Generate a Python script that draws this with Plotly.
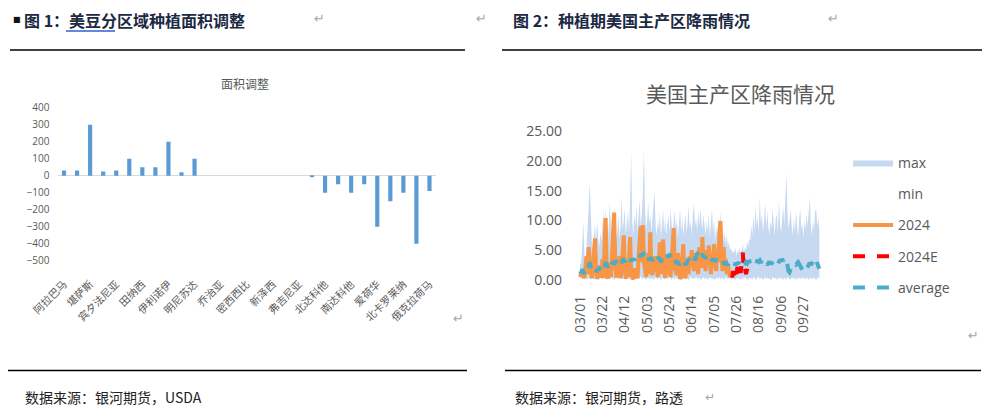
import plotly.graph_objects as go
import pandas as pd

W, H = 991, 412
OX, OY = 8, 8  # the page body offsets the figure by its default margin


def px(x):
    return (x - OX) / W


def py(y):
    return 1 - (y - OY) / H


# ---------------- Left chart data: 面积调整 ----------------
area_labels = ["阿拉巴马", "堪萨斯", "宾夕法尼亚", "田纳西", "伊利诺伊", "明尼苏达", "乔治亚",
               "密西西比", "新泽西", "弗吉尼亚", "北达科他", "南达科他", "爱荷华", "北卡罗莱纳", "俄克拉荷马"]
area_change = [30, 30, 300, 25, 30, 100, 50, 50, 200, 20, 100, 0, 0, 0, 0, 0, 0, 0, 0,
               -5, -100, -50, -100, -50, -300, -150, -100, -400, -90]
area_yticks = [400, 300, 200, 100, 0, -100, -200, -300, -400, -500]

# ---------------- Right chart data: 美国主产区降雨情况 ----------------
rain_start = "2024-03-01"
rain_tick_labels = ["03/01", "03/22", "04/12", "05/03", "05/24", "06/14", "07/05",
                    "07/26", "08/16", "09/06", "09/27"]
rain_yticks = [0, 5, 10, 15, 20, 25]

rain_max = [
    2.5, 3.0, 6.0, 10.0, 4.0, 3.5, 5.5, 8.0, 12.0, 16.5,
    9.0, 6.5, 5.0, 7.5, 9.5, 6.0, 10.0, 7.0, 5.5, 8.0,
    6.5, 9.0, 11.5, 7.0, 12.0, 8.5, 6.0, 9.5, 13.0, 8.0,
    10.5, 7.5, 12.5, 9.0, 6.5, 8.0, 11.0, 7.0, 9.0, 14.0,
    8.5, 10.0, 12.0, 7.5, 9.5, 11.5, 8.0, 13.0, 21.5, 10.0,
    7.5, 11.0, 9.0, 12.5, 8.0, 10.5, 13.5, 9.0, 11.0, 14.5,
    21.8, 12.0, 8.5, 10.0, 13.0, 9.5, 11.0, 8.0, 10.5, 12.0,
    15.0, 9.0, 7.5, 10.0, 8.5, 11.5, 7.0, 9.5, 12.0, 8.0,
    10.5, 7.5, 9.0, 11.0, 8.0, 12.0, 9.5, 7.0, 10.0, 11.5,
    8.5, 10.0, 7.0, 9.0, 12.0, 8.0, 10.5, 7.5, 9.0, 11.0,
    8.0, 9.5, 12.5, 8.5, 10.0, 7.5, 11.0, 13.0, 9.0, 10.5,
    8.0, 11.5, 9.0, 12.0, 10.0, 8.5, 11.0, 9.5, 7.5, 10.0,
    8.0, 11.0, 7.0, 9.5, 12.0, 8.0, 10.0, 6.5, 9.0, 7.5,
    10.5, 8.0, 11.5, 7.0, 9.0, 6.5, 8.0, 6.0, 7.5, 5.5,
    6.5, 5.0, 5.5, 4.5, 5.0, 4.5, 5.5, 4.0, 5.0, 4.5,
    5.5, 4.5, 5.0, 6.0, 4.5, 5.5, 5.0, 6.5, 5.5, 7.0,
    6.5, 9.0, 7.5, 11.0, 8.0, 12.5, 9.0, 10.5, 8.0, 14.0,
    9.5, 11.0, 8.0, 10.0, 13.0, 8.5, 11.5, 9.0, 7.5, 10.0,
    8.5, 12.0, 9.0, 7.5, 10.5, 11.0, 8.0, 13.5, 9.5, 8.0,
    10.0, 12.5, 9.0, 15.0, 18.0, 11.0, 8.5, 10.0, 12.0, 9.0,
    7.5, 10.5, 8.0, 11.5, 9.0, 7.0, 10.0, 12.0, 8.5, 9.5,
    7.0, 10.0, 8.5, 11.0, 9.0, 12.0, 13.8, 9.0, 7.5, 10.0,
    8.5, 11.5, 12.0, 9.0, 10.5, 8.0,
]

rain_min = [
    0.2, 0.4, 0.1, 0.3, 0.0, 0.5, 0.2, 0.1, 0.4, 0.3,
    0.1, 0.3, 0.5, 0.2, 0.0, 0.4, 0.1, 0.3, 0.2, 0.5,
    0.3, 0.1, 0.4, 0.6, 0.2, 0.0, 0.3, 0.5, 0.1, 0.2,
    0.4, 0.2, 0.0, 0.3, 0.5, 0.1, 0.4, 0.2, 0.6, 0.3,
    0.1, 0.4, 0.2, 0.0, 0.3, 0.5, 0.2, 0.1, 0.4, 0.3,
    0.0, 0.2, 0.5, 0.3, 0.1, 0.4, 0.2, 0.6, 0.3, 0.1,
    0.4, 0.2, 0.0, 0.3, 0.5, 0.1, 0.3, 0.2, 0.4, 0.0,
    0.3, 0.5, 0.2, 0.1, 0.4, 0.3, 0.0, 0.2, 0.5, 0.1,
    0.2, 0.4, 0.1, 0.3, 0.6, 0.2, 0.0, 0.4, 0.3, 0.1,
    0.5, 0.2, 0.3, 0.0, 0.4, 0.1, 0.3, 0.5, 0.2, 0.4,
    0.1, 0.3, 0.0, 0.2, 0.5, 0.4, 0.1, 0.3, 0.2, 0.6,
    0.3, 0.1, 0.4, 0.2, 0.0, 0.3, 0.5, 0.1, 0.4, 0.2,
    0.0, 0.4, 0.2, 0.5, 0.1, 0.3, 0.2, 0.0, 0.4, 0.3,
    0.2, 0.5, 0.1, 0.3, 0.4, 0.0, 0.2, 0.6, 0.3, 0.1,
    0.4, 0.2, 0.3, 0.1, 0.5, 0.2, 0.0, 0.3, 0.4, 0.1,
    0.3, 0.0, 0.2, 0.4, 0.1, 0.5, 0.3, 0.2, 0.0, 0.4,
    0.2, 0.3, 0.1, 0.5, 0.4, 0.0, 0.2, 0.3, 0.6, 0.1,
    0.4, 0.2, 0.0, 0.3, 0.5, 0.1, 0.4, 0.2, 0.3, 0.0,
    0.1, 0.5, 0.3, 0.2, 0.4, 0.0, 0.3, 0.1, 0.5, 0.2,
    0.3, 0.0, 0.4, 0.2, 0.1, 0.5, 0.3, 0.2, 0.0, 0.4,
    0.2, 0.4, 0.1, 0.3, 0.0, 0.5, 0.2, 0.4, 0.1, 0.3,
    0.5, 0.1, 0.3, 0.2, 0.4, 0.0, 0.3, 0.5, 0.1, 0.2,
    0.4, 0.2, 0.0, 0.3, 0.5, 0.1,
]

rain_2024 = [
    0.5, 1.2, 0.8, 1.5, 0.3, 2.5, 4.0, 1.0, 5.5, 3.0,
    0.5, 0.3, 2.0, 4.5, 7.0, 1.5, 0.2, 0.8, 2.5, 0.4,
    1.0, 3.5, 0.3, 6.0, 10.4, 2.0, 0.2, 1.5, 3.0, 0.5,
    4.5, 8.0, 11.3, 3.0, 0.4, 2.0, 1.0, 4.0, 0.3, 1.5,
    5.0, 7.5, 2.5, 0.2, 1.8, 0.5, 3.5, 7.2, 1.0, 0.2,
    0.1, 2.0, 0.5, 1.0, 0.3, 4.0, 6.5, 9.0, 3.0, 9.2,
    3.0, 1.5, 0.5, 2.0, 4.5, 1.0, 8.0, 2.0, 0.8, 3.5,
    1.5, 4.0, 2.0, 0.5, 3.0, 6.3, 2.0, 1.0, 6.8, 1.0,
    0.3, 2.5, 4.0, 1.0, 2.0, 0.5, 3.0, 5.0, 8.7, 2.0,
    1.5, 0.8, 4.5, 2.0, 0.2, 0.5, 3.0, 6.0, 1.0, 0.3,
    2.0, 3.5, 1.0, 4.0, 2.5, 5.0, 3.0, 1.5, 4.5, 2.0,
    3.5, 1.0, 5.5, 4.0, 2.0, 7.2, 3.0, 5.0, 1.5, 4.0,
    2.5, 5.8, 3.0, 1.0, 4.5, 2.0, 6.0, 3.5, 1.5, 5.0,
    3.0, 7.5, 9.9, 4.0, 1.5, 5.5, 2.0, 3.5, 1.0, 2.5,
    1.5, 0.5, 1.0, 0.4,
]

rain_2024e_start = 143
rain_2024e = [0.4, 1.5, 0.8, 2.0, 1.0, 2.2, 0.5, 1.8, 1.2, 2.5, 4.6, 1.5, 2.0, 1.0, 1.8, 0.8, 0.5]

rain_avg = [
    1.5, 1.2, 1.8, 1.4, 1.0, 1.6, 2.0, 1.5, 2.8, 3.0,
    2.2, 1.6, 1.3, 1.8, 1.5, 1.2, 1.9, 1.6, 2.1, 1.8,
    2.4, 2.0, 2.6, 2.2, 3.0, 2.5, 2.1, 2.8, 2.4, 2.0,
    2.7, 3.1, 2.6, 2.9, 3.3, 2.8, 2.5, 3.0, 3.4, 2.9,
    3.2, 3.6, 3.0, 3.4, 2.9, 3.3, 3.7, 3.1, 3.5, 3.2,
    3.6, 3.3, 3.9, 3.5, 4.0, 3.7, 4.2, 3.9, 4.4, 4.1,
    4.7, 4.0, 3.6, 3.9, 3.3, 3.7, 3.4, 3.8, 3.2, 3.6,
    3.3, 3.7, 3.1, 3.5, 3.8, 3.4, 3.0, 3.6, 3.9, 3.5,
    4.0, 3.6, 4.2, 3.8, 4.4, 4.0, 4.5, 3.9, 4.1, 3.5,
    3.0, 2.7, 3.1, 2.5, 2.9, 2.4, 2.8, 2.6, 3.0, 2.5,
    2.8, 3.2, 3.6, 3.1, 3.5, 3.9, 3.4, 3.8, 3.3, 4.0,
    4.3, 4.8, 5.2, 4.5, 4.0, 4.4, 3.8, 4.1, 3.6, 3.9,
    3.5, 3.8, 3.3, 3.7, 3.2, 3.6, 3.4, 3.1, 3.5, 3.2,
    3.0, 3.4, 3.1, 2.8, 3.2, 2.9, 2.6, 3.0, 2.7, 2.5,
    2.9, 2.6, 3.0, 2.7, 2.4, 2.8, 2.5, 2.9, 2.6, 3.0,
    2.7, 2.3, 2.8, 2.5, 2.9, 2.6, 3.0, 2.8, 3.2, 2.9,
    3.3, 3.0, 3.4, 3.1, 3.5, 3.2, 3.0, 3.4, 3.1, 3.3,
    2.9, 3.2, 2.7, 3.0, 2.6, 2.9, 2.5, 2.8, 3.1, 2.7,
    3.0, 2.6, 2.9, 3.2, 2.8, 3.1, 2.7, 3.0, 3.4, 3.1,
    3.5, 3.2, 3.8, 4.0, 3.6, 2.2, 1.5, 1.3, 1.7, 1.4,
    2.0, 2.5, 2.8, 2.6, 2.9, 3.0, 2.7, 2.4, 2.0, 1.6,
    1.4, 1.7, 1.3, 1.8, 2.2, 2.6, 2.9, 2.5, 2.8, 3.1,
    2.7, 3.3, 3.6, 2.8, 2.2, 1.9,
]

# ---------------- Build figure ----------------
dates = pd.date_range(rain_start, periods=len(rain_max), freq="D")
tick_dates = list(dates[::21][:len(rain_tick_labels)])
dates_2024 = dates[:len(rain_2024)]
dates_2024e = dates[rain_2024e_start:rain_2024e_start + len(rain_2024e)]

GRAY = "#595959"
CJK = "Noto Sans CJK SC"

fig = go.Figure()

fig.add_trace(go.Bar(
    x=list(range(len(area_change))), y=area_change, marker=dict(color="#5b9bd5", line=dict(width=0)),
    width=0.32, xaxis="x", yaxis="y", showlegend=False, hoverinfo="skip"))

fig.add_trace(go.Scatter(
    x=dates, y=rain_max, name="max", mode="lines", fill="tozeroy", fillcolor="#c6d9f1",
    line=dict(width=0, color="#c6d9f1"), xaxis="x2", yaxis="y2", legendgroup="a"))
fig.add_trace(go.Scatter(
    x=dates, y=rain_min, name="min", mode="lines", fill="tozeroy", fillcolor="#ffffff",
    line=dict(width=0, color="#ffffff"), xaxis="x2", yaxis="y2", legendgroup="b"))
fig.add_trace(go.Scatter(
    x=dates_2024, y=rain_2024, name="2024", mode="lines",
    line=dict(width=4, color="#f79646"), xaxis="x2", yaxis="y2", legendgroup="c"))
fig.add_trace(go.Scatter(
    x=dates_2024e, y=rain_2024e, name="2024E", mode="lines",
    line=dict(width=4, color="#ff0000", dash="dash"), xaxis="x2", yaxis="y2", legendgroup="d"))
fig.add_trace(go.Scatter(
    x=dates, y=rain_avg, name="average", mode="lines",
    line=dict(width=4, color="#4bacc6", dash="dash"), xaxis="x2", yaxis="y2", legendgroup="e"))

day0 = pd.Timestamp(rain_start)

fig.update_layout(
    width=W, height=H,
    margin=dict(l=0, r=0, t=0, b=0, autoexpand=False),
    paper_bgcolor="white", plot_bgcolor="white",
    bargap=0.7,
    font=dict(family="Open Sans", color=GRAY),
    xaxis=dict(
        domain=[px(57.5), px(436)], range=[-0.5, len(area_change) - 0.5],
        tickvals=list(range(0, len(area_change), 2)), ticktext=area_labels,
        tickangle=-45, tickfont=dict(family=CJK, size=10.5, color=GRAY),
        showgrid=False, zeroline=False, showline=False, ticks="", anchor="y",
        ticklabelstandoff=14, automargin=False),
    yaxis=dict(
        domain=[py(261), py(107.3)], range=[-502, 402], tickvals=area_yticks,
        tickfont=dict(family="Open Sans", size=10, color=GRAY),
        showgrid=False, zeroline=True, zerolinecolor="#d9d9d9", zerolinewidth=1,
        showline=False, ticks="", anchor="x", ticklabelstandoff=7, automargin=False),
    xaxis2=dict(
        type="date", domain=[px(578), px(822)],
        range=[day0 - pd.Timedelta(days=2), day0 + pd.Timedelta(hours=227.5 * 24)],
        tickvals=tick_dates, ticktext=rain_tick_labels, tickangle=-90,
        tickfont=dict(family="Open Sans", size=14, color=GRAY),
        showgrid=False, zeroline=False, showline=False, ticks="", anchor="y2",
        ticklabelstandoff=12, automargin=False),
    yaxis2=dict(
        domain=[py(280), py(130.7)], range=[0, 25.05], tickvals=rain_yticks, tickformat=".2f",
        tickfont=dict(family="Open Sans", size=14, color=GRAY),
        showgrid=False, zeroline=False, showline=False, ticks="", anchor="x2",
        ticklabelstandoff=15, automargin=False),
    legend=dict(
        x=px(848), y=py(147), xanchor="left", yanchor="top",
        font=dict(family="Open Sans", size=14, color=GRAY),
        bgcolor="rgba(0,0,0,0)", tracegroupgap=10, itemwidth=40),
)

ann = []
NAVY = "#1c2943"
ann.append(dict(x=px(11), y=py(20), text="■", font=dict(size=8, color="#111111", family="DejaVu Sans")))
ann.append(dict(x=px(22), y=py(20), text="<b>图 1：美豆分区域种植面积调整</b>",
                font=dict(size=16, color=NAVY, family=CJK)))
ann.append(dict(x=px(511), y=py(20), text="<b>图 2：种植期美国主产区降雨情况</b>",
                font=dict(size=16, color=NAVY, family=CJK)))
for (xx, yy) in [(312, 19), (474, 19), (826, 19), (451, 318), (966, 335)]:
    ann.append(dict(x=px(xx), y=py(yy), text="↵", font=dict(size=13, color="#a6a6a6", family="DejaVu Sans")))
ann.append(dict(x=px(23), y=py(397), text="数据来源：银河期货，USDA",
                font=dict(size=14, color="#222222", family=CJK)))
ann.append(dict(x=px(513), y=py(397), text="数据来源：银河期货，路透",
                font=dict(size=14, color="#222222", family=CJK)))
ann.append(dict(x=px(703), y=py(397), text="↵", font=dict(size=12, color="#a6a6a6", family="DejaVu Sans")))
for a in ann:
    a.update(xref="paper", yref="paper", xanchor="left", yanchor="middle", showarrow=False)

ann.append(dict(x=px(245), y=py(83), text="面积调整", xref="paper", yref="paper", showarrow=False,
                xanchor="center", yanchor="middle", font=dict(size=12, color=GRAY, family=CJK)))
ann.append(dict(x=px(740), y=py(93), text="美国主产区降雨情况", xref="paper", yref="paper", showarrow=False,
                xanchor="center", yanchor="middle", font=dict(size=21, color=GRAY, family=CJK)))
fig.update_layout(annotations=ann)

shapes = []
for (x0, x1, yy) in [(10, 465, 50), (502, 982, 50), (6, 467, 370.5), (505, 981, 370.5)]:
    shapes.append(dict(type="line", xref="paper", yref="paper", x0=px(x0), x1=px(x1),
                       y0=py(yy), y1=py(yy), line=dict(color="#000000", width=1.5)))
shapes.append(dict(type="line", xref="paper", yref="paper", x0=px(66), x1=px(115),
                   y0=py(31), y1=py(31), line=dict(color="#2f5fd0", width=1.5)))
fig.update_layout(shapes=shapes)

fig.write_html("out.html")
